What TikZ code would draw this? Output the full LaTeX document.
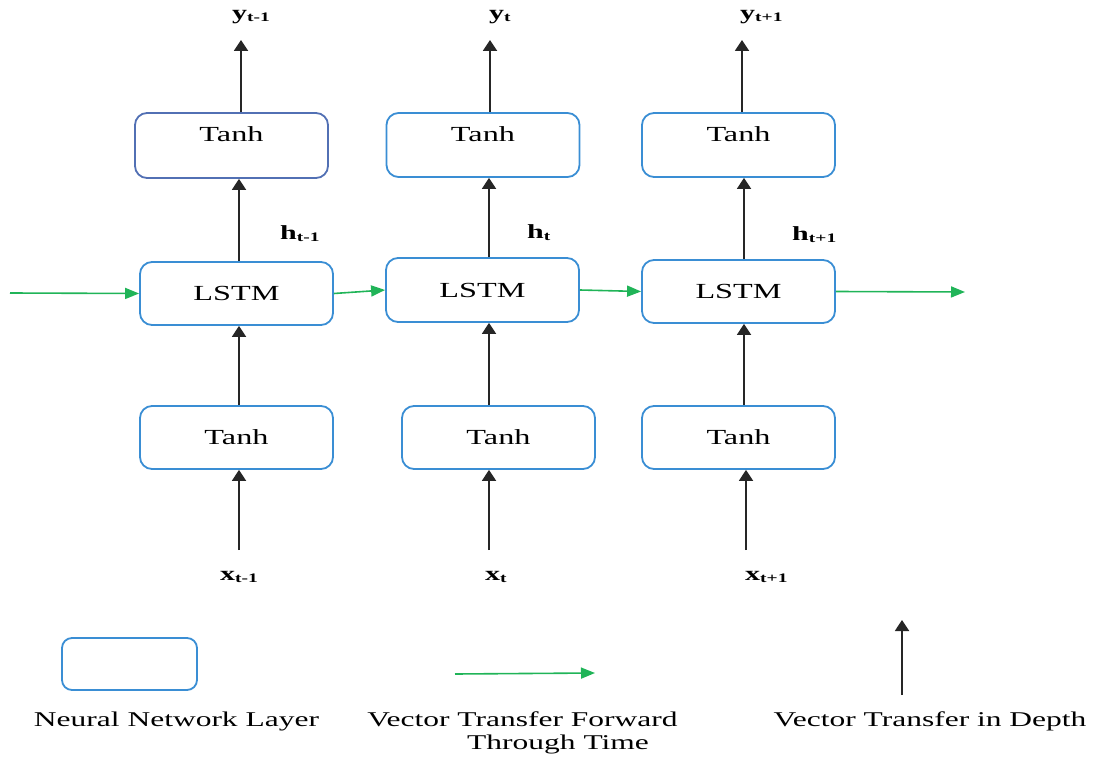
\documentclass[tikz,border=0pt]{standalone}
\usepackage{fontspec}
\setmainfont[FakeStretch=1.5]{Liberation Serif}
\usetikzlibrary{arrows.meta}

\definecolor{layerblue}{RGB}{58,142,212}
\definecolor{firstblue}{RGB}{82,112,180}
\definecolor{timegreen}{RGB}{32,180,88}

% variable with a smaller, slightly lowered index
\newcommand\seqvar[2]{\fontsize{20}{20}\selectfont\textbf{#1}\raisebox{-2pt}{\fontsize{13}{13}\selectfont\textbf{#2}}}

\tikzset{
  layer/.style={draw=layerblue, line width=1.8pt, rounded corners=12pt,
    minimum width=193pt, minimum height=63pt, inner sep=0pt},
  layertext/.style={font=\fontsize{21.5}{24}\selectfont, inner sep=0pt},
  depth/.style={line width=1.9pt, draw=black!85,
    -{Triangle[length=11pt,width=14pt]}},
  time/.style={line width=1.6pt, draw=timegreen,
    -{Triangle[length=14pt,width=11pt]}, color=timegreen},
  varlabel/.style={anchor=base west, inner sep=0pt},
  legendtext/.style={anchor=base, inner sep=0pt, font=\fontsize{21}{24}\selectfont},
}

\begin{document}
\begin{tikzpicture}[x=1pt,y=-1pt]
\useasboundingbox (0,0) rectangle (1098,757);

% column axes of the vertical transfers
\coordinate (c1) at (239,0);
\coordinate (c2) at (489,0);
\coordinate (c3) at (744,0);

% output layers
\node[layer, draw=firstblue, minimum height=65pt] (t1) at (231.5,145.5) {};
\node[layer, minimum height=64pt] (t2) at (483,145) {};
\node[layer, minimum height=64pt] (t3) at (738.5,145) {};
\node[layertext] (t1txt) at (231.5,134) {Tanh};
\node[layertext] (t2txt) at (483,134) {Tanh};
\node[layertext] (t3txt) at (738.5,134) {Tanh};

% recurrent layers
\node[layer] (l1) at (236.5,293.5) {};
\node[layer, minimum height=64pt] (l2) at (482.5,290) {};
\node[layer] (l3) at (738.5,291.5) {};
\node[layertext] (l1txt) at (l1.center) {LSTM};
\node[layertext] (l2txt) at (l2.center) {LSTM};
\node[layertext] (l3txt) at (l3.center) {LSTM};

% input layers
\node[layer] (b1) at (236.5,437.5) {};
\node[layer] (b2) at (498.5,437.5) {};
\node[layer] (b3) at (738.5,437.5) {};
\node[layertext] (b1txt) at (b1.center) {Tanh};
\node[layertext] (b2txt) at (b2.center) {Tanh};
\node[layertext] (b3txt) at (b3.center) {Tanh};

% outputs, hidden states, inputs
\node[varlabel] (y1) at (232,20) {\seqvar{y}{t-1}};
\node[varlabel] (y2) at (489,20) {\seqvar{y}{t}};
\node[varlabel] (y3) at (740,20) {\seqvar{y}{t+1}};
\node[varlabel] (h1) at (280,239) {\seqvar{h}{t-1}};
\node[varlabel] (h2) at (527,238) {\seqvar{h}{t}};
\node[varlabel] (h3) at (792,240) {\seqvar{h}{t+1}};
\node[varlabel] (x1) at (220,580) {\seqvar{x}{t-1}};
\node[varlabel] (x2) at (485,580) {\seqvar{x}{t}};
\node[varlabel] (x3) at (745,580) {\seqvar{x}{t+1}};

% free ends of the vertical transfers
\coordinate (yend1) at (241,40);
\coordinate (yend2) at (490,40);
\coordinate (yend3) at (742,40);
\coordinate (xstart1) at (239,550);
\coordinate (xstart2) at (489,550);
\coordinate (xstart3) at (746,550);

% transfer in depth
\draw[depth] (t1.north -| yend1) -- (yend1);
\draw[depth] (t2.north -| yend2) -- (yend2);
\draw[depth] (t3.north -| yend3) -- (yend3);
\draw[depth] (l1.north -| c1) -- (t1.south -| c1);
\draw[depth] (l2.north -| c2) -- (t2.south -| c2);
\draw[depth] (l3.north -| c3) -- (t3.south -| c3);
\draw[depth] (b1.north -| c1) -- (l1.south -| c1);
\draw[depth] (b2.north -| c2) -- (l2.south -| c2);
\draw[depth] (b3.north -| c3) -- (l3.south -| c3);
\draw[depth] (xstart1) -- (b1.south -| xstart1);
\draw[depth] (xstart2) -- (b2.south -| xstart2);
\draw[depth] (xstart3) -- (b3.south -| xstart3);

% transfer forward through time
\coordinate (tin) at (10,293);
\coordinate (tout) at (965,292);
\draw[time] (tin) -- (l1.west);
\draw[time] (l1.east) -- (l2.west);
\draw[time] (l2.east) -- (l3.west);
\draw[time] (l3.east) -- (tout);

% legend
\node[layer, minimum width=135pt, minimum height=52pt, rounded corners=10pt] (legbox) at (129.5,664) {};
\coordinate (leggreenA) at (455,674);
\coordinate (leggreenB) at (595,673);
\draw[time] (leggreenA) -- (leggreenB);
\coordinate (legdepthA) at (902,695);
\coordinate (legdepthB) at (902,620);
\draw[depth] (legdepthA) -- (legdepthB);

\node[legendtext] (leg1) at (176.5,726) {Neural Network Layer};
\node[legendtext] (leg2a) at (522.5,726) {Vector Transfer Forward};
\node[legendtext] (leg2b) at (558,749) {Through Time};
\node[legendtext] (leg3) at (930,726) {Vector Transfer in Depth};
\end{tikzpicture}
\end{document}
